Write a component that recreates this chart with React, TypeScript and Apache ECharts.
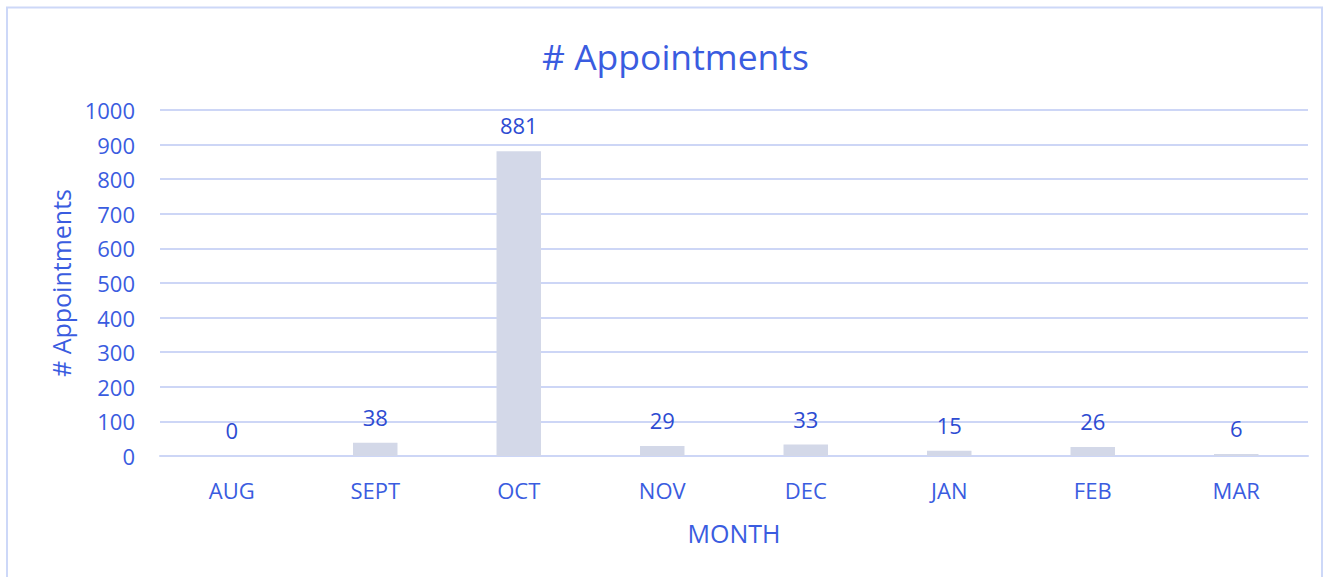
import React, { useEffect, useRef } from "react";
import * as echarts from "echarts";

const categories = ["AUG", "SEPT", "OCT", "NOV", "DEC", "JAN", "FEB", "MAR"];
const appointments = [0, 38, 881, 29, 33, 15, 26, 6];
const chartTitle = "# Appointments";
const xAxisName = "MONTH";
const yAxisName = "# Appointments";

const TEXT = "#3a5ce0";
const LABEL = "#2d4bd2";
const GRID = "#cdd6f6";
const BAR = "#d3d8e8";
const FONT = "'Open Sans', 'Noto Sans', sans-serif";

export default function App() {
  const ref = useRef<HTMLDivElement>(null);
  useEffect(() => {
    if (!ref.current) return;
    const chart = echarts.init(ref.current, null, { renderer: "svg" });
    chart.setOption({
      animation: false,
      backgroundColor: "#ffffff",
      textStyle: { fontFamily: FONT },
      title: {
        text: chartTitle,
        left: 537,
        top: 33,
        textStyle: { color: TEXT, fontSize: 35.5, fontWeight: "normal", fontFamily: FONT },
      },
      graphic: [
        {
          type: "rect",
          shape: { x: 7, y: 7.5, width: 1315, height: 620 },
          style: { fill: "none", stroke: "#cdd8f8", lineWidth: 2 },
          silent: true,
        },
      ],
      grid: { left: 160, right: 22, top: 110, bottom: 121, containLabel: false },
      xAxis: {
        type: "category",
        data: categories,
        axisLine: { show: true, lineStyle: { color: GRID, width: 2 } },
        axisTick: { show: false },
        axisLabel: { color: TEXT, fontSize: 22, margin: 23, fontFamily: FONT },
        name: xAxisName,
        nameLocation: "middle",
        nameGap: 64,
        nameTextStyle: { color: TEXT, fontSize: 25, fontFamily: FONT },
      },
      yAxis: {
        type: "value",
        min: 0,
        max: 1000,
        interval: 100,
        axisLine: { show: false },
        axisTick: { show: false },
        splitLine: { lineStyle: { color: GRID, width: 2 } },
        axisLabel: {
          color: TEXT,
          fontSize: 22,
          margin: 25,
          fontFamily: FONT,
          formatter: (v: number) => String(v),
        },
        name: yAxisName,
        nameLocation: "middle",
        nameGap: 86,
        nameTextStyle: { color: TEXT, fontSize: 25, fontFamily: FONT },
      },
      series: [
        {
          type: "bar",
          data: appointments,
          barWidth: "31%",
          itemStyle: { color: BAR },
          label: {
            show: true,
            position: "top",
            distance: 15,
            color: LABEL,
            fontSize: 22,
            fontFamily: FONT,
          },
        },
      ],
    });
    return () => chart.dispose();
  }, []);
  return (
    <div
      ref={ref}
      style={{ position: "fixed", left: 0, top: 0, width: 1330, height: 577 }}
    />
  );
}
